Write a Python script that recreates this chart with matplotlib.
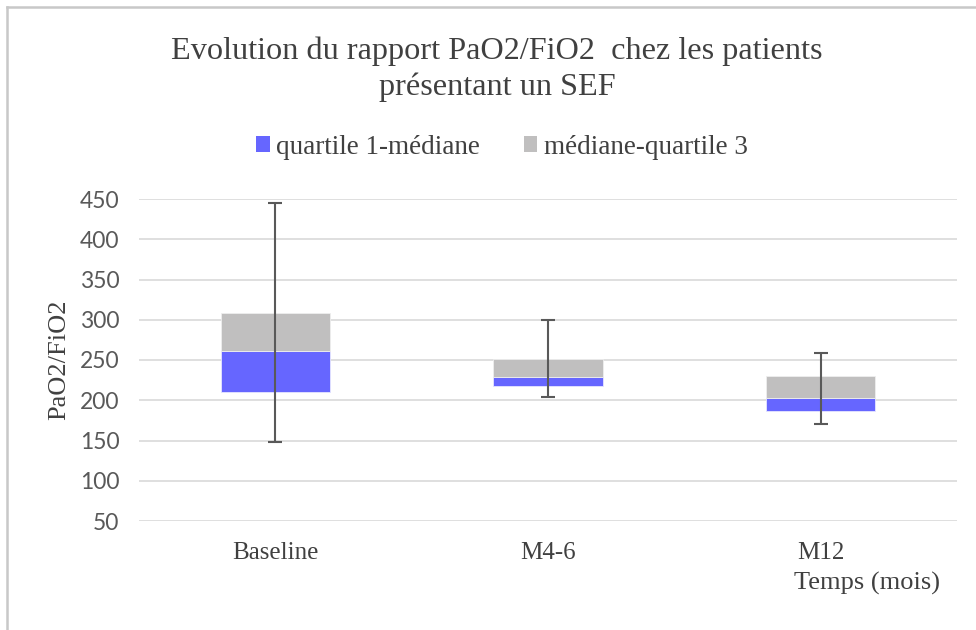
import matplotlib
matplotlib.use("Agg")
import matplotlib.pyplot as plt
from matplotlib.lines import Line2D
from matplotlib.patches import Patch
import numpy as np

categories = ["Baseline", "M4-6", "M12"]
q1 = [210, 218, 187]
median = [261, 229, 203]
q3 = [308, 251, 230]
mins = [148, 204, 170]
maxs = [445, 300, 259]
yticks = [50, 100, 150, 200, 250, 300, 350, 400, 450]

blue = "#6666FF"
grey = "#C0BFBF"
text_col = "#404040"
serif = ["Liberation Serif", "DejaVu Serif"]

fig = plt.figure(figsize=(9.76, 6.3), dpi=100)
ax = fig.add_axes([139/976, 1-521/630, (957-139)/976, (521-199)/630])

x = np.arange(len(categories))
q1a, meda, q3a = np.array(q1), np.array(median), np.array(q3)
ax.bar(x, meda - q1a, bottom=q1a, width=0.4, color=blue, edgecolor="#E6E6FF", linewidth=0.6, zorder=2)
ax.bar(x, q3a - meda, bottom=meda, width=0.4, color=grey, edgecolor="#EEEEEE", linewidth=0.6, zorder=2)
ax.errorbar(x, meda, yerr=[meda - np.array(mins), np.array(maxs) - meda], fmt="none",
            ecolor="#595959", elinewidth=1.5, capsize=4.7, capthick=1.5, zorder=3)

ax.set_xlim(-0.5, 2.5)
ax.set_ylim(50, 450)
ax.set_yticks(yticks)
ax.set_yticklabels([str(v) for v in yticks], fontfamily="Lato", fontsize=16.5, color="#595959")
ax.set_xticks(x)
ax.set_xticklabels(categories, fontfamily=serif, fontsize=18, color=text_col)
ax.tick_params(axis="both", length=0)
ax.tick_params(axis="y", pad=14)
ax.tick_params(axis="x", pad=15)
for s in ax.spines.values():
    s.set_visible(False)
ax.grid(axis="y", color="#D9D9D9", linewidth=1.2, zorder=0)
ax.set_axisbelow(True)

ax.set_ylabel("PaO2/FiO2", fontfamily=serif, fontsize=19, color=text_col, labelpad=7)

fig.text(497/976, 1-69/630, "Evolution du rapport PaO2/FiO2  chez les patients\nprésentant un SEF",
         ha="center", va="center", fontfamily=serif, fontsize=23.2, color=text_col, linespacing=1.28)
fig.text(867/976, 1-583/630, "Temps (mois)", ha="center", va="center",
         fontfamily=serif, fontsize=19, color=text_col)

handles = [Patch(facecolor=blue, edgecolor="none"), Patch(facecolor=grey, edgecolor="none")]
fig.legend(handles, ["quartile 1-médiane", "médiane-quartile 3"], loc="center",
           bbox_to_anchor=(502/976, 1-147/630), ncol=2, frameon=False,
           prop={"family": serif, "size": 19.5}, labelcolor=text_col,
           handlelength=0.5, handleheight=0.5, handletextpad=0.25, columnspacing=1.6)

fig.add_artist(Line2D([7/976, 1], [1-7/630, 1-7/630], color="#C8C8C8", linewidth=1.8, transform=fig.transFigure))
fig.add_artist(Line2D([7/976, 7/976], [0, 1-7/630], color="#C8C8C8", linewidth=1.8, transform=fig.transFigure))

fig.savefig("out.png", dpi=100)
